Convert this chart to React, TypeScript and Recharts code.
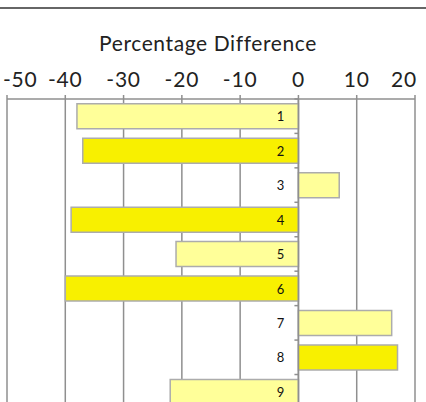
import { BarChart, Bar, XAxis, YAxis, CartesianGrid, Cell, LabelList, ReferenceLine } from 'recharts';

// rows of the chart, top to bottom
const categories = ['1', '2', '3', '4', '5', '6', '7', '8', '9'];
const diffValues = [-38, -37, 7, -39, -21, -40, 16, 17, -22];
const xTicks = [-50, -40, -30, -20, -10, 0, 10, 20];
const barColors = ['#ffff99', '#f8f000'];

const data = categories.map((name, i) => ({ name, diff: diffValues[i] }));

const FONT = 'Lato, "Open Sans", sans-serif';
const GRAY = '#8f8f8f';
const CAT_GAP = 0.14;

function TopTick(props: any) {
  const { x, y, payload, index } = props;
  const first = index === 0;
  const last = index === xTicks.length - 1;
  // keep the outer labels inside the picture, like the original does
  const anchor = first ? 'start' : last ? 'end' : 'middle';
  const tx = first ? x - 4 : last ? x + 2 : x;
  return (
    <text
      x={tx}
      y={y}
      textAnchor={anchor}
      fontSize={21}
      letterSpacing={0.8}
      fontFamily={FONT}
      fill="#222"
    >
      {payload.value}
    </text>
  );
}

// category label + small tick mark sitting on the zero line
function ZeroLabel(props: any) {
  const { x, y, width, height, value, index } = props;
  const left = Math.min(x, x + width);
  const right = Math.max(x, x + width);
  const zeroX = diffValues[index] < 0 ? right : left;
  const cy = y + height / 2;
  const band = height / (1 - 2 * CAT_GAP);
  const top = cy - band / 2;
  const bottom = cy + band / 2;
  return (
    <g>
      <line x1={zeroX - 4} x2={zeroX} y1={top} y2={top} stroke={GRAY} strokeWidth={1.5} />
      {index === categories.length - 1 && (
        <line x1={zeroX - 4} x2={zeroX} y1={bottom} y2={bottom} stroke={GRAY} strokeWidth={1.5} />
      )}
      <text
        x={zeroX - 18}
        y={cy}
        textAnchor="middle"
        dominantBaseline="central"
        fontSize={13}
        fontFamily={FONT}
        fill="#111"
      >
        {value}
      </text>
    </g>
  );
}

export default function App() {
  return (
    <>
      <style>{'html,body{margin:0;padding:0;overflow:hidden;}'}</style>
      <div style={{ position: 'relative', width: 426, height: 402, overflow: 'hidden', background: '#fff' }}>
        <div style={{ position: 'absolute', top: 7, left: 0, width: 426, height: 2, background: '#666' }} />
        <div
          style={{
            position: 'absolute',
            top: 30,
            left: 0,
            width: 416,
            textAlign: 'center',
            fontFamily: FONT,
            fontSize: 21,
            letterSpacing: 0.6,
            color: '#222',
          }}
        >
          Percentage Difference
        </div>
        <BarChart
          width={426}
          height={412}
          data={data}
          layout="vertical"
          margin={{ top: 60, right: 11, left: 7, bottom: 3 }}
          barCategoryGap={`${CAT_GAP * 100}%`}
        >
          <CartesianGrid horizontal={false} stroke={GRAY} strokeWidth={1.5} />
          <XAxis
            type="number"
            orientation="top"
            domain={[-50, 20]}
            ticks={xTicks}
            height={39}
            tickSize={4}
            tickMargin={8}
            axisLine={{ stroke: GRAY, strokeWidth: 1.5 }}
            tickLine={{ stroke: GRAY, strokeWidth: 1.5 }}
            tick={<TopTick />}
            interval={0}
          />
          <YAxis type="category" dataKey="name" hide width={0} />
          <ReferenceLine x={0} stroke={GRAY} strokeWidth={1.5} />
          <Bar dataKey="diff" stroke="#acacac" strokeWidth={1.5} isAnimationActive={false}>
            {data.map((d, i) => (
              <Cell key={d.name} fill={barColors[i % 2]} />
            ))}
            <LabelList dataKey="name" content={<ZeroLabel />} />
          </Bar>
        </BarChart>
      </div>
    </>
  );
}
